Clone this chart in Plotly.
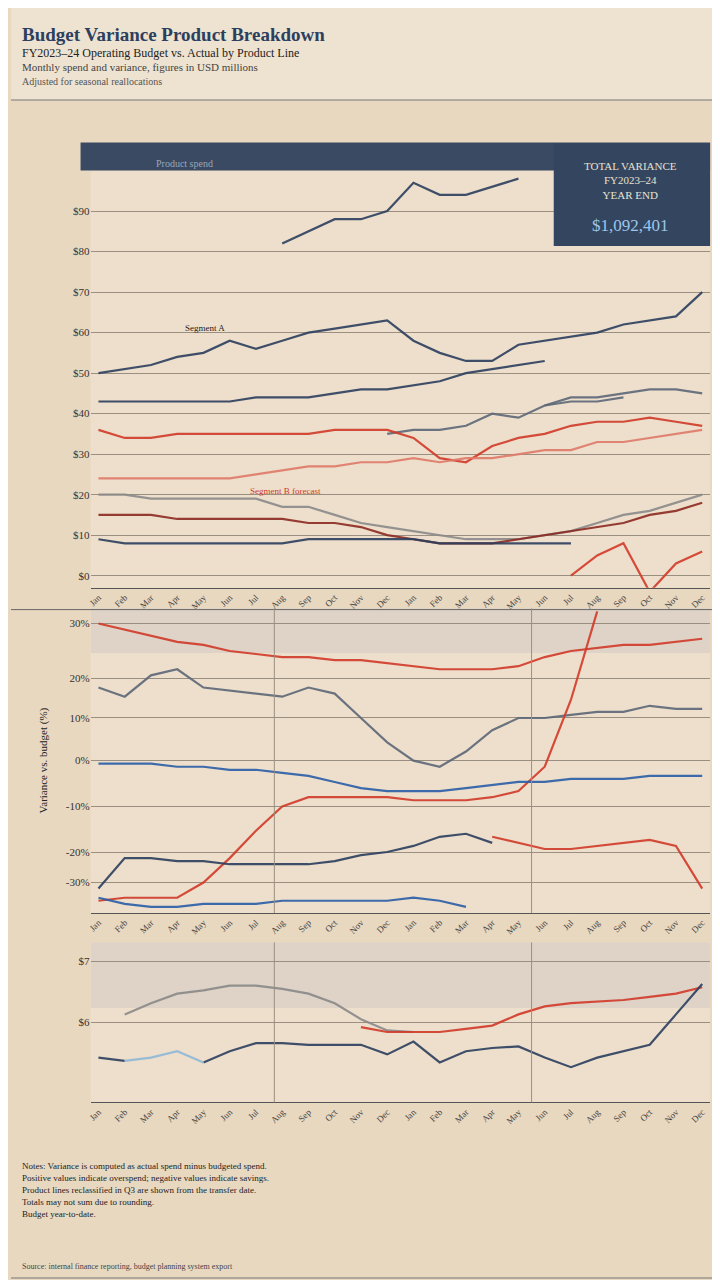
import plotly.graph_objects as go

months = ["Jan", "Feb", "Mar", "Apr", "May", "Jun", "Jul", "Aug", "Sep", "Oct", "Nov", "Dec",
          "Jan", "Feb", "Mar", "Apr", "May", "Jun", "Jul", "Aug", "Sep", "Oct", "Nov", "Dec"]
x = list(range(24))
N = None

# ---------- panel 1: product lines ----------
p1_top = [N]*7 + [82, 85, 88, 88, 90, 97, 94, 94, 96, 98] + [N]*7
p1_navy = [50, 51, 52, 54, 55, 58, 56, 58, 60, 61, 62, 63, 58, 55, 53, 53, 57, 58, 59, 60, 62, 63, 64, 70]
p1_navy2 = [43, 43, 43, 43, 43, 43, 44, 44, 44, 45, 46, 46, 47, 48, 50, 51, 52, 53] + [N]*6
p1_slate = [N]*17 + [42, 44, 44, 45, 46, 46, 45]
p1_gray = [N]*11 + [35, 36, 36, 37, 40, 39, 42, 43, 43, 44, N, N, N]
p1_red = [36, 34, 34, 35, 35, 35, 35, 35, 35, 36, 36, 36, 34, 29, 28, 32, 34, 35, 37, 38, 38, 39, 38, 37]
p1_red2 = [24, 24, 24, 24, 24, 24, 25, 26, 27, 27, 28, 28, 29, 28, 29, 29, 30, 31, 31, 33, 33, 34, 35, 36]
p1_gray2 = [20, 20, 19, 19, 19, 19, 19, 17, 17, 15, 13, 12, 11, 10, 9, 9, 9, 10, 11, 13, 15, 16, 18, 20]
p1_darkred = [15, 15, 15, 14, 14, 14, 14, 14, 13, 13, 12, 10, 9, 8, 8, 8, 9, 10, 11, 12, 13, 15, 16, 18]
p1_base = [9, 8, 8, 8, 8, 8, 8, 8, 9, 9, 9, 9, 9, 8, 8, 8, 8, 8, 8] + [N]*5
p1_spike = [N]*18 + [0, 5, 8, -4, 3, 6]

# ---------- panel 2: variance ----------
p2_red = [95, 93, 91, 89, 88, 86, 85, 84, 84, 83, 83, 82, 81, 80, 80, 80, 81, 84, 86, 87, 88, 88, 89, 90]
p2_slate = [74, 71, 78, 80, 74, 73, 72, 71, 74, 72, 64, 56, 50, 48, 53, 60, 64, 64, 65, 66, 66, 68, 67, 67]
p2_red_rise = [4, 5, 5, 5, 10, 18, 27, 35, 38, 38, 38, 38, 37, 37, 37, 38, 40, 48, 70, 99] + [N]*4
p2_blue = [49, 49, 49, 48, 48, 47, 47, 46, 45, 43, 41, 40, 40, 40, 41, 42, 43, 43, 44, 44, 44, 45, 45, 45]
p2_blue2 = [8, 18, 18, 17, 17, 16, 16, 16, 16, 17, 19, 20, 22, 25, 26, 23] + [N]*8
p2_red_low = [N]*15 + [25, 23, 21, 21, 22, 23, 24, 22, 8]
p2_blue_low = [5, 3, 2, 2, 3, 3, 3, 4, 4, 4, 4, 4, 5, 4, 2] + [N]*9

# ---------- panel 3: totals ----------
p3_gray = [N, 55, 62, 68, 70, 73, 73, 71, 68, 62, 52, 45, 44] + [N]*11
p3_red = [N]*10 + [47, 44, 44, 44, 46, 48, 55, 60, 62, 63, 64, 66, 68, 72]
p3_navy = [28, 26, N, N, 25, 32, 37, 37, 36, 36, 36, 30, 38, 25, 32, 34, 35, 28, 22, 28, 32, 36, 55, 74]
p3_light = [N, 26, 28, 32, 25] + [N]*19

NAVY, RED, BLUE, SLATE, GRAY, DRED = "#2c3f5f", "#d23a2a", "#2a5ea8", "#5d6878", "#8a8a8a", "#8c2a22"

fig = go.Figure()

def add(y, color, ax, w=2.2, op=0.9):
    fig.add_trace(go.Scatter(x=x, y=y, mode="lines", line=dict(color=color, width=w),
                             opacity=op, xaxis="x" + ax, yaxis="y" + ax, showlegend=False))

for y, c in [(p1_top, NAVY), (p1_navy, NAVY), (p1_navy2, NAVY), (p1_slate, SLATE), (p1_gray, SLATE),
             (p1_red, RED), (p1_red2, "#e07a6a"), (p1_gray2, GRAY), (p1_darkred, DRED),
             (p1_base, NAVY), (p1_spike, RED)]:
    add(y, c, "")
for y, c in [(p2_red, RED), (p2_slate, SLATE), (p2_red_rise, RED), (p2_blue, BLUE),
             (p2_blue2, NAVY), (p2_red_low, RED), (p2_blue_low, BLUE)]:
    add(y, c, "2")
for y, c in [(p3_gray, GRAY), (p3_red, RED), (p3_navy, NAVY), (p3_light, "#8fb8d8")]:
    add(y, c, "3")

BG = "#e9d8c0"
PLOT = "#eddfcb"
XR = 0.975
xcommon = dict(range=[-0.3, 23.3], tickvals=x, ticktext=months, tickangle=-45,
               tickfont=dict(size=9, color="#444"), showgrid=False, showline=True,
               linecolor="#555", zeroline=False)
ycommon = dict(showgrid=True, gridcolor="#9a8f80", gridwidth=1, zeroline=False,
               tickfont=dict(size=11, color="#333", family="Liberation Serif"))

fig.update_layout(
    width=720, height=1280, paper_bgcolor=BG, plot_bgcolor=PLOT,
    margin=dict(l=0, r=0, t=0, b=0),
    font=dict(family="Liberation Serif", color="#222"),
    xaxis=dict(domain=[0.111, XR], anchor="y", **xcommon),
    yaxis=dict(domain=[0.547, 0.873], range=[-3, 100], anchor="x",
               tickvals=[0, 10, 20, 30, 40, 50, 60, 70, 80, 90],
               ticktext=["$0", "$10", "$20", "$30", "$40", "$50", "$60", "$70", "$80", "$90"], **ycommon),
    xaxis2=dict(domain=[0.111, XR], anchor="y2", **xcommon),
    yaxis2=dict(domain=[0.293, 0.531], range=[0, 100], anchor="x2",
                tickvals=[10, 20, 35, 50, 64, 77, 95], ticktext=["-30%", "-20%", "-10%", "0%", "10%", "20%", "30%"],
                title=dict(text="Variance vs. budget (%)", font=dict(size=11)), **ycommon),
    xaxis3=dict(domain=[0.111, XR], anchor="y3", **xcommon),
    yaxis3=dict(domain=[0.145, 0.270], range=[0, 100], anchor="x3",
                tickvals=[50, 88], ticktext=["$6", "$7"], **ycommon),
)

shapes = [
    dict(type="rect", xref="paper", yref="paper", x0=0, x1=1, y0=1 - 92/1280, y1=1,
         fillcolor="#eee2d0", line_width=0, layer="below"),
    dict(type="line", xref="paper", yref="paper", x0=0, x1=1, y0=1 - 92/1280, y1=1 - 92/1280,
         line=dict(color="#777", width=1)),
    dict(type="rect", xref="paper", yref="paper", x0=0.097, x1=XR, y0=0.873, y1=0.895,
         fillcolor="#3b4a63", line_width=0),
    dict(type="rect", xref="paper", yref="paper", x0=545/720, x1=XR, y0=1 - 238/1280, y1=1 - 135/1280,
         fillcolor="#34465f", line_width=0),
    dict(type="rect", xref="x2", yref="paper", x0=-0.3, x1=23.3, y0=1 - 645/1280, y1=0.531,
         fillcolor="#d9d0c4", opacity=0.8, line_width=0, layer="below"),
    dict(type="rect", xref="x3", yref="paper", x0=-0.3, x1=23.3, y0=1 - 1000/1280, y1=0.270,
         fillcolor="#d9d0c4", opacity=0.8, line_width=0, layer="below"),
    dict(type="line", xref="paper", yref="paper", x0=0, x1=1, y0=0.530, y1=0.530,
         line=dict(color="#666", width=1)),
    dict(type="line", xref="paper", yref="paper", x0=0, x1=1, y0=10/1280, y1=10/1280,
         line=dict(color="#777", width=1)),
]
for ax, yr in [("x2", "y2"), ("x3", "y3")]:
    for v in [6.7, 16.5]:
        shapes.append(dict(type="line", xref=ax, yref=yr + " domain", x0=v, x1=v, y0=0, y1=1,
                           line=dict(color="#9a8f80", width=1)))
fig.update_layout(shapes=shapes)

ann = [
    dict(x=0.012, y=1 - 14/1280, text="<b>Budget Variance Product Breakdown</b>", font=dict(size=19, color="#2c3f5f")),
    dict(x=0.012, y=1 - 36/1280, text="FY2023–24 Operating Budget vs. Actual by Product Line", font=dict(size=12)),
    dict(x=0.012, y=1 - 51/1280, text="Monthly spend and variance, figures in USD millions", font=dict(size=11, color="#444")),
    dict(x=0.012, y=1 - 66/1280, text="Adjusted for seasonal reallocations", font=dict(size=10, color="#555")),
    dict(x=622/720, y=1 - 150/1280, text="TOTAL VARIANCE<br>FY2023–24<br>YEAR END", font=dict(size=11, color="#e8e0d0"), xanchor="center"),
    dict(x=622/720, y=1 - 206/1280, text="$1,092,401", font=dict(size=17, color="#9cc6ea"), xanchor="center"),
    dict(x=0.2, y=0.884, text="Product spend", font=dict(size=10, color="#9aa5b8")),
    dict(x=0.24, y=1 - 313/1280, text="Segment A", font=dict(size=9)),
    dict(x=0.33, y=1 - 483/1280, text="Segment B forecast", font=dict(size=9, color=RED)),
    dict(x=0.012, y=1 - 1165/1280, text="Notes: Variance is computed as actual spend minus budgeted spend.", font=dict(size=9)),
    dict(x=0.012, y=1 - 1177/1280, text="Positive values indicate overspend; negative values indicate savings.", font=dict(size=9)),
    dict(x=0.012, y=1 - 1189/1280, text="Product lines reclassified in Q3 are shown from the transfer date.", font=dict(size=9)),
    dict(x=0.012, y=1 - 1201/1280, text="Totals may not sum due to rounding.", font=dict(size=9)),
    dict(x=0.012, y=1 - 1213/1280, text="Budget year-to-date.", font=dict(size=9)),
    dict(x=0.012, y=1 - 1265/1280, text="Source: internal finance reporting, budget planning system export", font=dict(size=8, color="#444")),
]
fig.update_layout(annotations=[dict(xref="paper", yref="paper", showarrow=False,
                                    xanchor=a.pop("xanchor", "left"), **a) for a in ann])

fig.write_html("out.html")
